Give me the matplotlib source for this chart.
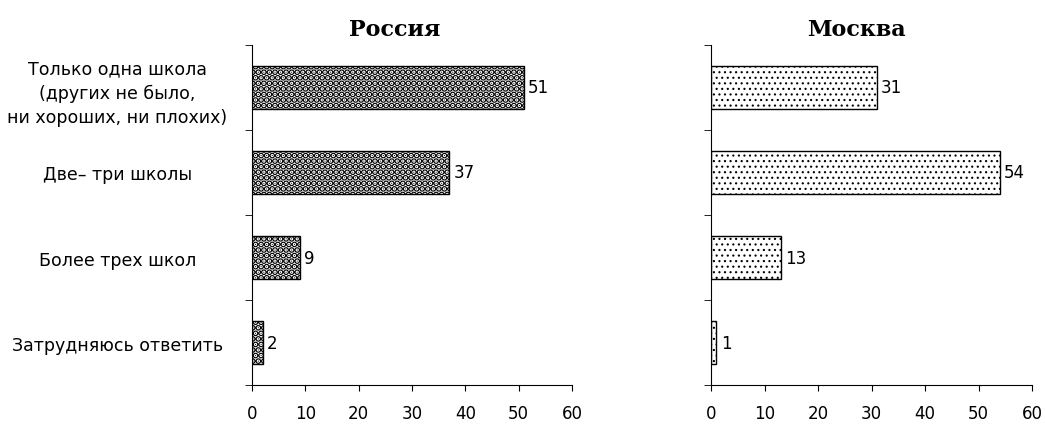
import matplotlib
matplotlib.use("Agg")
import matplotlib.pyplot as plt

# answers and shares (%)
categories = ["Только одна школа\n(других не было,\nни хороших, ни плохих)",
              "Две\u2013 три школы",
              "Более трех школ",
              "Затрудняюсь ответить"]
russia = [51, 37, 9, 2]
moscow = [31, 54, 13, 1]
xticks = [0, 10, 20, 30, 40, 50, 60]

plt.rcParams['font.family'] = ['DejaVu Sans']

fig = plt.figure(figsize=(10.45, 4.27), dpi=100)
ax1 = fig.add_axes([0.2411, 0.096, 0.3062, 0.7963])
ax2 = fig.add_axes([0.6804, 0.096, 0.3072, 0.7963])

ypos = list(range(len(categories)))


def draw(ax, values, hatch, hlw, show_labels):
    plt.rcParams['hatch.linewidth'] = hlw
    bars = ax.barh(ypos, values, height=0.5, color='white', edgecolor='black',
                   linewidth=1.0, hatch=hatch)
    for p in bars:
        if hasattr(p, 'set_hatch_linewidth'):
            p.set_hatch_linewidth(hlw)
    for y, v in zip(ypos, values):
        ax.text(v + 0.8, y, str(v), va='center', ha='left', fontsize=12,
                family=['Liberation Sans Narrow', 'DejaVu Sans Condensed'])
    ax.set_xlim(0, 60)
    ax.set_ylim(3.5, -0.5)
    ax.set_xticks(xticks)
    ax.tick_params(axis='x', labelsize=12, length=4, pad=10)
    ax.set_yticks(ypos)
    if show_labels:
        ax.set_yticklabels(categories, fontsize=12.5, ha='center',
                           linespacing=1.45)
        ax.tick_params(axis='y', length=0, pad=97)
    else:
        ax.set_yticklabels([])
        ax.tick_params(axis='y', length=0)
    ax.set_yticks([-0.5, 0.5, 1.5, 2.5, 3.5], minor=True)
    ax.tick_params(axis='y', which='minor', length=5)
    ax.spines['top'].set_visible(False)
    ax.spines['right'].set_visible(False)


draw(ax1, russia, '...', 3.2, True)
draw(ax2, moscow, '...', 0.8, False)

fig.text(0.378, 0.93, "Россия", ha='center', va='center', fontsize=16,
         fontweight='bold', family='DejaVu Serif')
fig.text(0.820, 0.93, "Москва", ha='center', va='center', fontsize=16,
         fontweight='bold', family='DejaVu Serif')

fig.savefig("out.png", dpi=100)
